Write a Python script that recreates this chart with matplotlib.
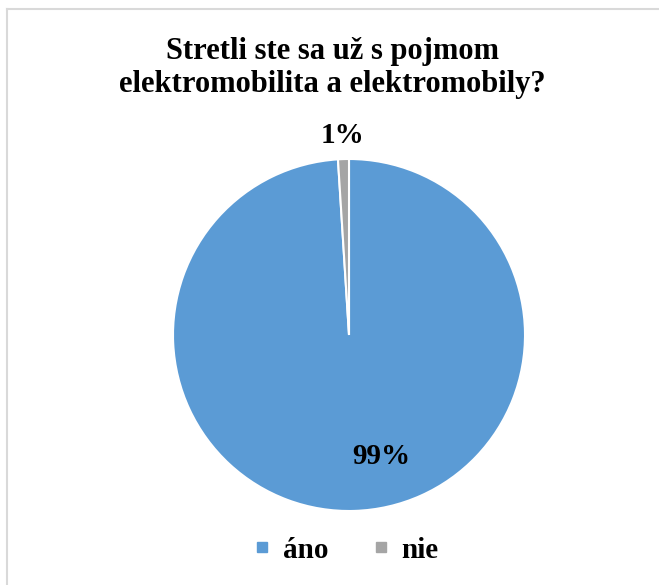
import matplotlib
matplotlib.use("Agg")
import matplotlib.pyplot as plt
from matplotlib.lines import Line2D
import numpy as np

# data
labels = ["áno", "nie"]
values = [99, 1]
colors = ["#5B9BD5", "#A5A5A5"]
title = "Stretli ste sa už s pojmom\nelektromobilita a elektromobily?"

plt.rcParams['font.family'] = ['Liberation Serif', 'DejaVu Serif']

W, H = 659, 585
fig = plt.figure(figsize=(W / 100, H / 100), dpi=100)

# pie axes: center (349, 335) px, radius 176 px
cx, cy, r = 349, 335, 176
ax = fig.add_axes([(cx - r) / W, 1 - (cy + r) / H, 2 * r / W, 2 * r / H])
wedges, _ = ax.pie(values, colors=colors, startangle=90, counterclock=False,
                   wedgeprops={'edgecolor': 'white', 'linewidth': 1.5})
ax.set_xlim(-1, 1)
ax.set_ylim(-1, 1)
ax.set_aspect('equal')

total = float(sum(values))
pcts = ["%d%%" % round(v * 100 / total) for v in values]

# small slice label outside, big slice label inside
w = wedges[1]
mid = np.deg2rad((w.theta1 + w.theta2) / 2)
ax.text(1.135 * np.cos(mid), 1.135 * np.sin(mid), pcts[1], ha='center', va='center',
        fontsize=21, fontweight='bold', clip_on=False)
ax.text(0.185, -0.69, pcts[0], ha='center', va='center',
        fontsize=21, fontweight='bold')

fig.text(0.505, 1 - 68 / H, title, ha='center', va='center', fontsize=22,
         fontweight='bold', linespacing=1.2)

handles = [Line2D([], [], marker='s', linestyle='none', markersize=7,
                  markerfacecolor=c, markeredgecolor=c) for c in colors]
fig.legend(handles, labels, loc='center', bbox_to_anchor=(0.525, 1 - 550 / H),
           ncol=2, frameon=False, handlelength=0.6, handletextpad=0.4,
           columnspacing=1.5, prop={'size': 21, 'weight': 'bold'})

# chart frame (only top and left edges visible)
fig.add_artist(Line2D([7 / W, 7 / W], [0, 1 - 9 / H], color='#D9D9D9', linewidth=1.5))
fig.add_artist(Line2D([7 / W, 1], [1 - 9 / H, 1 - 9 / H], color='#D9D9D9', linewidth=1.5))

fig.savefig("out.png", dpi=100)
